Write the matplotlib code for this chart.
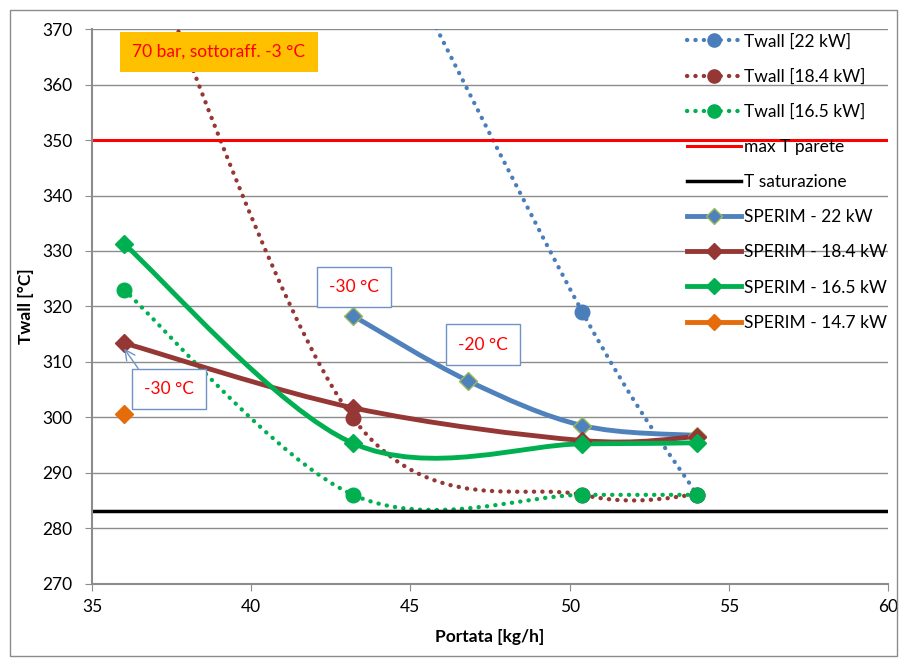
import matplotlib.pyplot as plt
import numpy as np
from matplotlib.path import Path
from matplotlib.patches import PathPatch, Rectangle
from matplotlib.lines import Line2D

plt.rcParams['font.family'] = ['Lato', 'DejaVu Sans']

# Twall calcolata (portata [kg/h], T [°C])
x_twall_22 = [43.2, 50.4, 54]
twall_22 = [400, 319, 286]
x_twall_184 = [36, 43.2, 50.4, 54]
twall_184 = [395, 299.8, 286, 286]
x_twall_165 = [36, 43.2, 50.4, 54]
twall_165 = [323, 286, 286, 286]

# misure sperimentali
x_sperim_22 = [43.2, 46.8, 50.4, 54]
sperim_22 = [318.3, 306.6, 298.5, 296.7]
x_sperim_184 = [36, 43.2, 50.4, 54]
sperim_184 = [313.4, 301.7, 295.8, 296.5]
x_sperim_165 = [36, 43.2, 50.4, 54]
sperim_165 = [331.3, 295.3, 295.2, 295.4]
x_sperim_147 = [36]
sperim_147 = [300.5]

t_max_parete = 350
t_saturazione = 283

BLUE = '#4A7EBB'
BROWN = '#953735'
GREEN = '#00B050'
ORANGE = '#E46C0A'
GRID = '#8C8C8C'
DOT = (0, (0.05, 1.9))


def smooth_path(xs, ys):
    # curva smussata tipo Excel (Bezier cubiche, Catmull-Rom)
    pts = np.column_stack([xs, ys]).astype(float)
    n = len(pts)
    verts = [pts[0]]
    codes = [Path.MOVETO]
    for i in range(n - 1):
        p0 = pts[max(i - 1, 0)]
        p1 = pts[i]
        p2 = pts[i + 1]
        p3 = pts[min(i + 2, n - 1)]
        verts += [p1 + (p2 - p0) / 6, p2 - (p3 - p1) / 6, p2]
        codes += [Path.CURVE4] * 3
    return Path(verts, codes)


fig = plt.figure(figsize=(9.01, 6.64), dpi=100)
ax = fig.add_axes([92 / 901, 1 - 583.5 / 664, 796 / 901, 554.2 / 664])

fig.patches.append(Rectangle((9.5 / 901, 1 - 656 / 664), 887 / 901, 646 / 664,
                             transform=fig.transFigure, fill=False,
                             edgecolor=GRID, lw=1))

ax.set_xlim(35, 60)
ax.set_ylim(270, 370)
ax.set_xticks(np.arange(35, 61, 5))
ax.set_yticks(np.arange(270, 371, 10))
ax.grid(axis='y', color=GRID, lw=1)
ax.set_axisbelow(True)
for s in ['top', 'right']:
    ax.spines[s].set_visible(False)
for s in ['left', 'bottom']:
    ax.spines[s].set_color(GRID)
    ax.spines[s].set_linewidth(1.5)
ax.tick_params(direction='out', length=5, color=GRID, labelsize=12.5, pad=6)
ax.tick_params(axis='y', pad=9)

handles = []

# curve Twall (punteggiate)
for xs, ys, c, lab in [(x_twall_22, twall_22, BLUE, 'Twall [22 kW]'),
                       (x_twall_184, twall_184, BROWN, 'Twall [18.4 kW]'),
                       (x_twall_165, twall_165, GREEN, 'Twall [16.5 kW]')]:
    ax.add_patch(PathPatch(smooth_path(xs, ys), fill=False, edgecolor=c,
                           lw=3.1, linestyle=DOT, capstyle='round'))
    ax.plot(xs, ys, 'o', color=c, ms=10.5, zorder=3)
    handles.append(Line2D([], [], color=c, lw=3.1, ls=DOT,
                          dash_capstyle='round', marker='o', ms=9.5, label=lab))

ax.axhline(t_max_parete, color='#FF0000', lw=2.2)
handles.append(Line2D([], [], color='#FF0000', lw=2.2, label='max T parete'))
ax.axhline(t_saturazione, color='black', lw=2.5)
handles.append(Line2D([], [], color='black', lw=2.5, label='T saturazione'))

# dati sperimentali
for xs, ys, c, ec, lab in [(x_sperim_22, sperim_22, '#4F81BD', '#9BBB59', 'SPERIM - 22 kW'),
                           (x_sperim_184, sperim_184, BROWN, BROWN, 'SPERIM - 18.4 kW'),
                           (x_sperim_165, sperim_165, GREEN, GREEN, 'SPERIM - 16.5 kW'),
                           (x_sperim_147, sperim_147, ORANGE, ORANGE, 'SPERIM - 14.7 kW')]:
    if len(xs) > 1:
        ax.add_patch(PathPatch(smooth_path(xs, ys), fill=False, edgecolor=c,
                               lw=3.5, capstyle='round', joinstyle='round'))
    ax.plot(xs, ys, 'D', color=c, mec=ec, mew=1, ms=9.5, zorder=3)
    handles.append(Line2D([], [], color=c, lw=3.5, marker='D', mfc=c, mec=ec,
                          mew=1, ms=8.5, label=lab))

ax.legend(handles=handles, loc='upper left', bbox_to_anchor=(0.7475, 0.993),
          frameon=False, fontsize=12.5, handlelength=3.1, handletextpad=0.2,
          labelspacing=1.1, borderpad=0, borderaxespad=0)

box = dict(boxstyle='square,pad=0.7', fc='white', ec='#6F93C6', lw=1)
ax.text(43.22, 323.5, '-30 °C', color='red', fontsize=12.5, ha='center', va='center', bbox=box)
ax.text(47.28, 313.1, '-20 °C', color='red', fontsize=12.5, ha='center', va='center', bbox=box)
ax.text(37.42, 305.06, '-30 °C', color='red', fontsize=12.5, ha='center', va='center', bbox=box)
ax.annotate('', xy=(36.01, 312.4), xytext=(36.45, 308.8),
            arrowprops=dict(arrowstyle='->', color='#6F93C6', lw=1,
                            shrinkA=0, shrinkB=0, mutation_scale=18))
ax.text(38.99, 365.9, '70 bar, sottoraff. -3 °C', color='red', fontsize=12.5,
        ha='center', va='center',
        bbox=dict(boxstyle='square,pad=0.7', fc='#FFC000', ec='none'))

ax.set_xlabel('Portata [kg/h]', fontsize=12.5, fontweight='bold', labelpad=10)
ax.set_ylabel('Twall [°C]', fontsize=12.5, fontweight='bold', labelpad=6)

fig.savefig('out.png', dpi=100)
